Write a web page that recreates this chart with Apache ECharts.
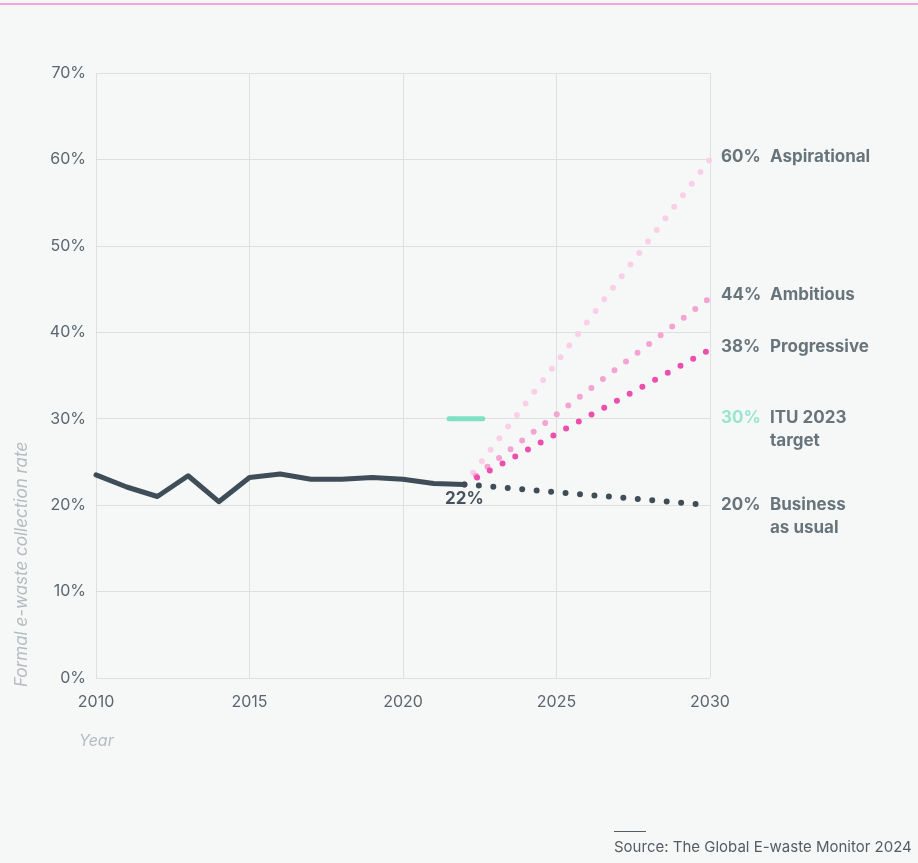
<!DOCTYPE html>
<html>
<head>
<meta charset="utf-8">
<script src="https://cdn.jsdelivr.net/npm/echarts@6/dist/echarts.min.js"></script>
<style>
  html, body { margin: 0; padding: 0; background: #f6f8f7; }
  #chart { width: 918px; height: 863px; }
</style>
</head>
<body>
<div id="chart"></div>
<script>
const years = [2010, 2011, 2012, 2013, 2014, 2015, 2016, 2017, 2018, 2019, 2020, 2021, 2022];
const rates = [23.5, 22.1, 21.0, 23.4, 20.4, 23.2, 23.6, 23.0, 23.0, 23.2, 23.0, 22.5, 22.4];

const scenarioNames = ['Business\nas usual', 'Progressive', 'Ambitious', 'Aspirational'];
const scenarioEnd = [20, 38, 44, 60];
const scenarioColors = ['#3f4d58', '#ec4fae', '#f4a3d3', '#f9d0e8'];
const projectionYears = [2022, 2030];

const ituTarget = 30;
const ituRange = [2021.5, 2022.6];
const ituLabel = 'ITU 2023\ntarget';

const yTicks = [0, 70, 10];
const xTicks = [2010, 2030, 5];

const ink = '#45525d';
const font = 'Inter';

const chart = echarts.init(document.getElementById('chart'));

const lastRate = rates[rates.length - 1];

const projections = scenarioNames.map((name, i) => ({
  name: name,
  type: 'line',
  data: [[projectionYears[0], lastRate], [projectionYears[1], scenarioEnd[i]]],
  symbol: 'none',
  z: 3 - i,
  lineStyle: { color: scenarioColors[i], width: 6, type: [0, 14.5], cap: 'round' },
}));

// label points on the right side, one per scenario plus ITU target
const labelRows = scenarioNames.map((n, i) => ({ name: n, value: [2030, scenarioEnd[i]], pct: 'p' }))
  .concat([{ name: ituLabel, value: [2030, ituTarget], pct: 't' }]);

chart.setOption({
  backgroundColor: '#f6f8f7',
  animation: false,
  textStyle: { fontFamily: font },
  grid: { left: 96, right: 208, top: 73, bottom: 185 },
  xAxis: {
    type: 'value',
    min: xTicks[0], max: xTicks[1], interval: xTicks[2],
    axisLine: { show: false },
    axisTick: { show: false },
    splitLine: { show: true, lineStyle: { color: '#dedfe0', width: 1 } },
    axisLabel: { color: '#5b6670', fontSize: 16, margin: 16, formatter: (v) => String(v) },
  },
  yAxis: {
    type: 'value',
    min: yTicks[0], max: yTicks[1], interval: yTicks[2],
    axisLine: { show: false },
    axisTick: { show: false },
    splitLine: { lineStyle: { color: '#dedfe0', width: 1 } },
    axisLabel: { color: '#5b6670', fontSize: 16, margin: 10, formatter: '{value}%' },
  },
  series: [
    ...projections,
    {
      name: 'Formal e-waste collection rate',
      type: 'line',
      data: years.map((y, i) => [y, rates[i]]),
      symbol: 'none',
      z: 5,
      lineStyle: { color: '#3f4d58', width: 5, cap: 'round', join: 'round' },
      markPoint: {
        symbol: 'circle', symbolSize: 0,
        data: [{ coord: [years[years.length - 1], lastRate], value: Math.round(lastRate) + '%' }],
        label: { show: true, position: 'bottom', distance: 6, color: ink, fontSize: 17, fontWeight: 'bold',
          formatter: (p) => p.value },
      },
    },
    {
      name: 'ITU 2023 target',
      type: 'line',
      data: ituRange.map((x) => [x, ituTarget]),
      symbol: 'none',
      lineStyle: { color: '#7fe0c3', width: 5, cap: 'round' },
    },
    {
      name: 'labels',
      type: 'scatter',
      symbolSize: 0,
      data: labelRows.map((r) => ({
        name: r.name,
        value: r.value,
        pct: r.pct,
        label: { offset: [0, r.name.includes('\n') ? 11 : -3] },
      })),
      label: {
        show: true,
        position: 'right',
        distance: 11,
        lineHeight: 23,
        formatter: (p) => {
          const pct = '{' + p.data.pct + '|' + p.value[1] + '%}';
          const lines = p.name.split('\n');
          return pct + '{n|' + lines[0] + '}' + (lines[1] ? '\n{b|}{n|' + lines[1] + '}' : '');
        },
        rich: {
          p: { color: ink, fontSize: 17, fontWeight: 'bold', width: 49, fontFamily: font, lineHeight: 23 },
          t: { color: '#7fe0c3', fontSize: 17, fontWeight: 'bold', width: 49, fontFamily: font, lineHeight: 23 },
          n: { color: ink, fontSize: 17, fontWeight: 'bold', fontFamily: font, lineHeight: 23 },
          b: { width: 49 },
        },
      },
    },
  ],
  graphic: [
    { type: 'rect', left: 0, top: 3, shape: { width: 918, height: 2 }, style: { fill: '#f5a3dc' } },
    {
      type: 'text', x: 22, y: 687, rotation: Math.PI / 2,
      style: { text: 'Formal e-waste collection rate', fill: '#b5bcc0', fontSize: 17, fontStyle: 'italic',
        fontFamily: font, align: 'left', verticalAlign: 'middle' },
    },
    {
      type: 'text', x: 79, y: 741,
      style: { text: 'Year', fill: '#b5bcc0', fontSize: 16, fontStyle: 'italic', fontFamily: font,
        align: 'left', verticalAlign: 'middle' },
    },
    { type: 'rect', left: 614, top: 831, shape: { width: 32, height: 1 }, style: { fill: '#555c62' } },
    {
      type: 'text', x: 614, y: 847,
      style: { text: 'Source: The Global E-waste Monitor 2024', fill: '#555c62', fontSize: 15, fontFamily: font,
        align: 'left', verticalAlign: 'middle' },
    },
  ],
});
</script>
</body>
</html>
